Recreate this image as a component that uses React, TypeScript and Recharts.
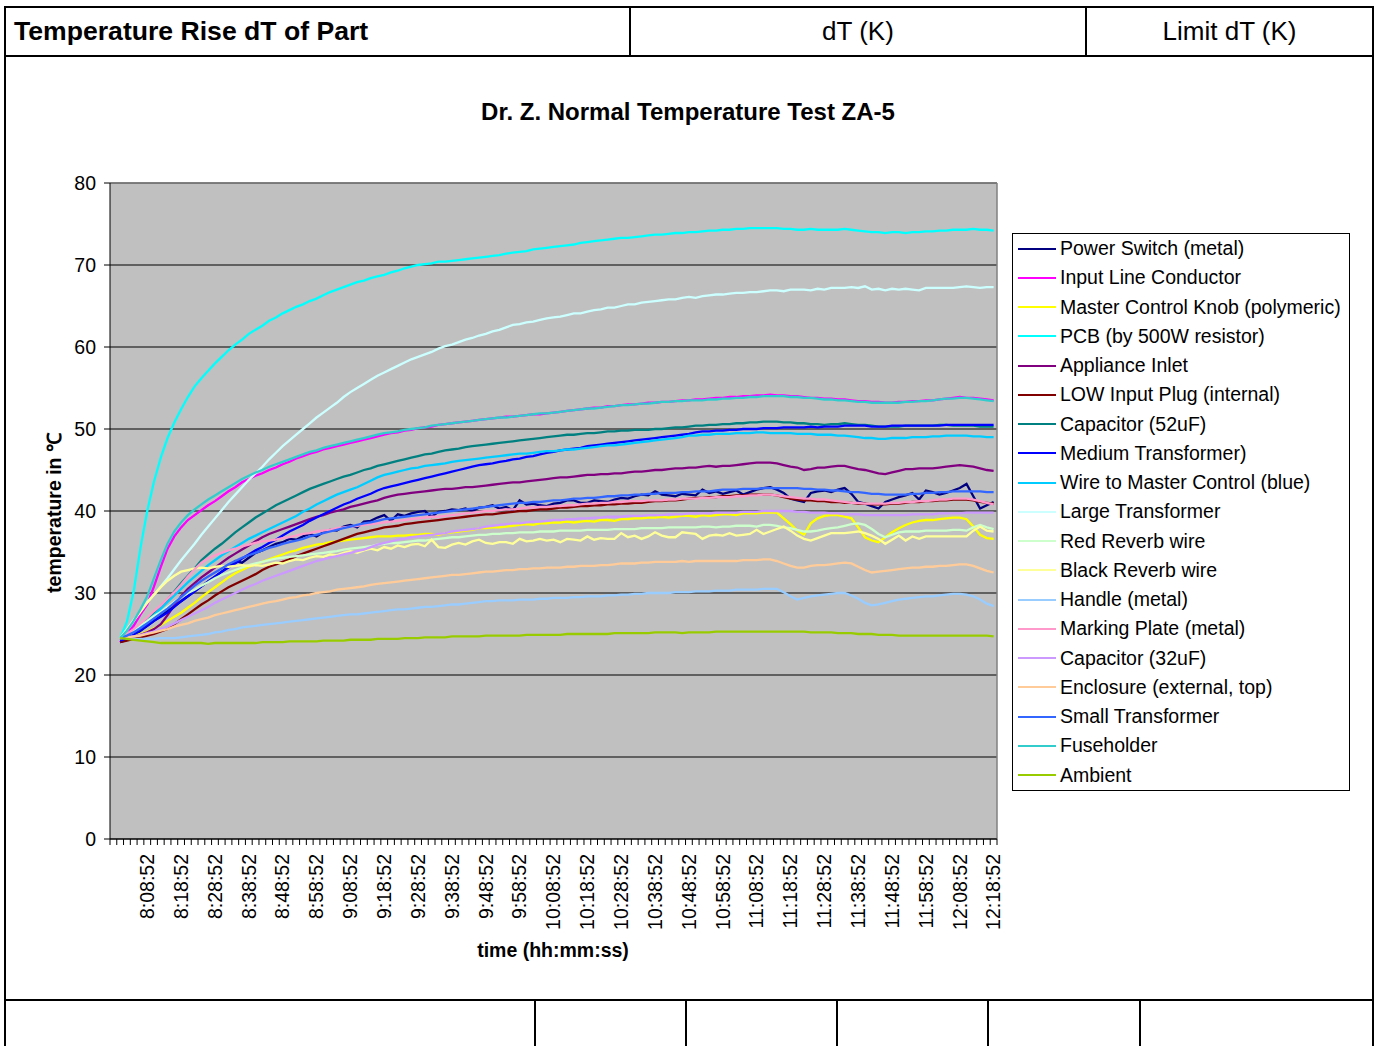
import React from "react";
import { LineChart, Line, XAxis, YAxis, CartesianGrid, Legend, ReferenceLine } from "recharts";

// ---------- categories (sample times, every 2 minutes) ----------
const times: string[] = [
  "7:58:52",
  "8:00:52","8:02:52","8:04:52","8:06:52","8:08:52","8:10:52","8:12:52","8:14:52","8:16:52","8:18:52",
  "8:20:52","8:22:52","8:24:52","8:26:52","8:28:52","8:30:52","8:32:52","8:34:52","8:36:52","8:38:52",
  "8:40:52","8:42:52","8:44:52","8:46:52","8:48:52","8:50:52","8:52:52","8:54:52","8:56:52","8:58:52",
  "9:00:52","9:02:52","9:04:52","9:06:52","9:08:52","9:10:52","9:12:52","9:14:52","9:16:52","9:18:52",
  "9:20:52","9:22:52","9:24:52","9:26:52","9:28:52","9:30:52","9:32:52","9:34:52","9:36:52","9:38:52",
  "9:40:52","9:42:52","9:44:52","9:46:52","9:48:52","9:50:52","9:52:52","9:54:52","9:56:52","9:58:52",
  "10:00:52","10:02:52","10:04:52","10:06:52","10:08:52","10:10:52","10:12:52","10:14:52","10:16:52","10:18:52",
  "10:20:52","10:22:52","10:24:52","10:26:52","10:28:52","10:30:52","10:32:52","10:34:52","10:36:52","10:38:52",
  "10:40:52","10:42:52","10:44:52","10:46:52","10:48:52","10:50:52","10:52:52","10:54:52","10:56:52","10:58:52",
  "11:00:52","11:02:52","11:04:52","11:06:52","11:08:52","11:10:52","11:12:52","11:14:52","11:16:52","11:18:52",
  "11:20:52","11:22:52","11:24:52","11:26:52","11:28:52","11:30:52","11:32:52","11:34:52","11:36:52","11:38:52",
  "11:40:52","11:42:52","11:44:52","11:46:52","11:48:52","11:50:52","11:52:52","11:54:52","11:56:52","11:58:52",
  "12:00:52","12:02:52","12:04:52","12:06:52","12:08:52","12:10:52","12:12:52","12:14:52","12:16:52","12:18:52",
];
// the first category carries no reading; values below start at the second category
const FIRST_SAMPLE = 1;

const yTicks = [0, 10, 20, 30, 40, 50, 60, 70, 80];

// ---------- series values (°C) ----------
const powerSwitch = [
  24.0, 24.3, 24.8, 25.4, 26.0, 26.6, 27.2, 27.8, 28.4, 29.0,
  29.6, 30.2, 30.8, 31.4, 32.0, 32.6, 33.2, 33.9, 33.7, 34.3,
  34.9, 35.2, 35.6, 36.0, 36.2, 36.6, 36.5, 36.9, 37.2, 36.9,
  37.4, 37.7, 37.6, 38.1, 38.3, 38.0, 38.7, 38.8, 39.2, 39.5,
  38.8, 39.6, 39.4, 39.7, 39.9, 40.0, 39.3, 39.9, 40.0, 40.2,
  40.1, 40.3, 40.0, 40.4, 40.5, 40.7, 40.3, 40.5, 40.1, 41.3,
  40.8, 40.9, 40.7, 40.6, 40.9, 41.0, 41.3, 41.3, 41.0, 41.0,
  41.3, 41.2, 41.1, 41.4, 41.6, 41.5, 41.8, 42.0, 41.9, 42.4,
  42.0, 41.9, 41.8, 42.1, 42.0, 41.9, 42.6, 42.2, 42.4, 42.1,
  42.3, 42.5, 42.0, 42.3, 42.6, 42.8, 42.9, 42.6, 42.2, 41.5,
  41.3, 41.1, 42.2, 42.4, 42.5, 42.3, 42.6, 42.8, 42.1, 41.1,
  40.9, 40.6, 40.3, 41.1, 41.4, 41.7, 41.9, 42.2, 41.4, 42.5,
  42.3, 42.0, 42.2, 42.5, 42.8, 43.3, 41.8, 40.3, 40.7, 41.1,
];
const inputLine = [
  24.0, 25.0, 26.0, 27.4, 28.6, 30.8, 33.2, 35.4, 36.9, 38.0,
  38.9, 39.5, 40.1, 40.7, 41.2, 41.8, 42.4, 42.9, 43.5, 43.9,
  44.3, 44.6, 45.0, 45.3, 45.7, 46.0, 46.4, 46.7, 47.0, 47.2,
  47.5, 47.7, 47.9, 48.1, 48.3, 48.5, 48.7, 48.9, 49.1, 49.3,
  49.5, 49.6, 49.8, 49.9, 50.1, 50.2, 50.3, 50.5, 50.6, 50.7,
  50.8, 50.9, 51.0, 51.1, 51.2, 51.3, 51.4, 51.5, 51.5, 51.6,
  51.7, 51.8, 51.8, 51.9, 52.0, 52.1, 52.2, 52.3, 52.4, 52.5,
  52.6, 52.6, 52.8, 52.8, 52.9, 53.0, 53.0, 53.1, 53.2, 53.2,
  53.3, 53.3, 53.4, 53.5, 53.5, 53.6, 53.6, 53.7, 53.8, 53.8,
  53.9, 53.9, 54.0, 54.0, 54.1, 54.1, 54.2, 54.1, 54.1, 54.0,
  54.0, 53.9, 53.8, 53.8, 53.7, 53.7, 53.6, 53.6, 53.5, 53.4,
  53.4, 53.3, 53.3, 53.2, 53.2, 53.3, 53.3, 53.4, 53.4, 53.5,
  53.5, 53.6, 53.7, 53.8, 53.9, 53.8, 53.8, 53.7, 53.6, 53.5,
];
const masterKnob = [
  24.5, 24.6, 24.8, 25.0, 25.3, 25.7, 26.1, 26.6, 27.1, 27.6,
  28.2, 28.8, 29.5, 30.1, 30.7, 31.3, 31.9, 32.4, 32.8, 33.2,
  33.5, 33.8, 34.1, 34.4, 34.7, 35.0, 35.2, 35.5, 35.7, 35.9,
  36.0, 36.2, 36.3, 36.4, 36.5, 36.6, 36.7, 36.8, 36.9, 36.9,
  36.9, 37.0, 37.0, 37.1, 37.1, 37.2, 37.2, 37.1, 37.3, 37.4,
  37.5, 37.6, 37.7, 37.9, 37.9, 38.0, 38.0, 38.1, 38.2, 38.3,
  38.4, 38.3, 38.5, 38.5, 38.6, 38.6, 38.7, 38.6, 38.7, 38.8,
  38.7, 38.9, 38.9, 38.8, 39.0, 39.0, 39.1, 39.1, 39.2, 39.2,
  39.3, 39.2, 39.3, 39.4, 39.4, 39.3, 39.5, 39.4, 39.5, 39.6,
  39.6, 39.5, 39.7, 39.7, 39.7, 39.8, 39.8, 39.8, 39.1, 38.4,
  37.6, 37.1, 38.5, 39.1, 39.4, 39.5, 39.5, 39.3, 39.1, 38.0,
  36.8, 36.4, 36.2, 36.8, 37.4, 37.9, 38.3, 38.6, 38.8, 38.9,
  38.9, 39.0, 39.1, 39.2, 39.2, 39.0, 38.1, 37.1, 36.7, 36.6,
];
const pcb = [
  24.5, 26.5, 30.2, 35.5, 40.0, 43.6, 46.5, 48.9, 50.8, 52.4,
  53.9, 55.2, 56.2, 57.1, 58.0, 58.8, 59.6, 60.3, 60.9, 61.6,
  62.1, 62.6, 63.2, 63.6, 64.1, 64.5, 64.9, 65.2, 65.6, 65.9,
  66.3, 66.7, 67.0, 67.3, 67.6, 67.9, 68.1, 68.4, 68.6, 68.8,
  69.1, 69.3, 69.6, 69.8, 70.0, 70.1, 70.2, 70.4, 70.4, 70.5,
  70.6, 70.7, 70.8, 70.9, 71.0, 71.1, 71.2, 71.4, 71.5, 71.6,
  71.7, 71.9, 72.0, 72.1, 72.2, 72.3, 72.4, 72.5, 72.7, 72.8,
  72.9, 73.0, 73.1, 73.2, 73.3, 73.3, 73.4, 73.5, 73.6, 73.7,
  73.7, 73.8, 73.9, 73.9, 74.0, 74.0, 74.1, 74.2, 74.2, 74.3,
  74.3, 74.4, 74.4, 74.5, 74.5, 74.5, 74.5, 74.5, 74.4, 74.4,
  74.3, 74.3, 74.4, 74.3, 74.3, 74.3, 74.3, 74.4, 74.3, 74.2,
  74.1, 74.0, 74.0, 73.9, 74.0, 74.0, 73.9, 74.0, 74.0, 74.1,
  74.1, 74.2, 74.2, 74.3, 74.3, 74.3, 74.4, 74.3, 74.3, 74.2,
];
const applianceInlet = [
  24.4, 24.5, 24.7, 24.9, 25.2, 25.6, 26.2, 27.3, 28.5, 29.6,
  30.5, 31.2, 31.9, 32.5, 33.1, 33.7, 34.3, 34.8, 35.3, 35.8,
  36.3, 36.8, 37.2, 37.5, 37.8, 38.1, 38.4, 38.7, 39.0, 39.3,
  39.5, 39.8, 40.0, 40.2, 40.5, 40.7, 40.9, 41.1, 41.3, 41.6,
  41.8, 42.0, 42.1, 42.2, 42.3, 42.4, 42.5, 42.6, 42.7, 42.7,
  42.8, 42.9, 42.9, 43.0, 43.1, 43.2, 43.3, 43.4, 43.5, 43.5,
  43.6, 43.7, 43.8, 43.9, 44.0, 44.1, 44.1, 44.2, 44.3, 44.4,
  44.4, 44.5, 44.5, 44.6, 44.6, 44.7, 44.8, 44.8, 44.9, 45.0,
  45.0, 45.1, 45.2, 45.2, 45.3, 45.3, 45.4, 45.5, 45.4, 45.5,
  45.5, 45.6, 45.7, 45.8, 45.9, 45.9, 45.9, 45.8, 45.6, 45.4,
  45.3, 45.0, 45.1, 45.3, 45.3, 45.4, 45.5, 45.5, 45.3, 45.1,
  45.0, 44.8, 44.6, 44.5, 44.7, 44.9, 45.1, 45.1, 45.2, 45.2,
  45.2, 45.3, 45.4, 45.5, 45.6, 45.5, 45.4, 45.2, 45.0, 44.9,
];
const lowInputPlug = [
  24.0, 24.2, 24.4, 24.6, 24.8, 25.0, 25.3, 25.6, 26.2, 26.8,
  27.4, 28.0, 28.6, 29.1, 29.7, 30.2, 30.7, 31.1, 31.5, 31.9,
  32.3, 32.8, 33.2, 33.5, 33.8, 34.1, 34.5, 34.8, 35.1, 35.4,
  35.7, 36.0, 36.3, 36.6, 36.9, 37.2, 37.4, 37.6, 37.8, 38.0,
  38.1, 38.2, 38.4, 38.5, 38.6, 38.7, 38.8, 38.9, 39.0, 39.1,
  39.2, 39.3, 39.4, 39.5, 39.6, 39.6, 39.7, 39.8, 39.9, 40.0,
  40.0, 40.1, 40.2, 40.2, 40.3, 40.4, 40.4, 40.5, 40.6, 40.6,
  40.7, 40.7, 40.8, 40.8, 40.9, 40.9, 41.0, 41.0, 41.1, 41.2,
  41.2, 41.3, 41.3, 41.4, 41.5, 41.6, 41.6, 41.7, 41.7, 41.8,
  41.8, 41.9, 41.9, 42.0, 42.0, 42.0, 42.0, 41.9, 41.7, 41.5,
  41.4, 41.3, 41.3, 41.2, 41.2, 41.1, 41.1, 41.0, 41.0, 40.9,
  40.9, 40.8, 40.8, 40.8, 40.9, 40.9, 41.0, 41.1, 41.1, 41.2,
  41.2, 41.3, 41.3, 41.4, 41.4, 41.4, 41.3, 41.1, 41.0, 40.9,
];
const cap52 = [
  24.5, 24.8, 25.3, 26.0, 26.8, 27.6, 28.4, 29.2, 30.2, 31.2,
  32.1, 33.0, 34.0, 34.7, 35.4, 36.0, 36.7, 37.4, 38.0, 38.6,
  39.2, 39.7, 40.2, 40.7, 41.1, 41.5, 41.9, 42.3, 42.7, 43.0,
  43.3, 43.6, 43.9, 44.2, 44.4, 44.7, 45.0, 45.2, 45.5, 45.7,
  45.9, 46.1, 46.3, 46.5, 46.7, 46.9, 47.0, 47.2, 47.4, 47.5,
  47.6, 47.8, 47.9, 48.0, 48.1, 48.2, 48.3, 48.4, 48.5, 48.6,
  48.7, 48.8, 48.9, 49.0, 49.1, 49.2, 49.3, 49.3, 49.4, 49.5,
  49.5, 49.6, 49.7, 49.7, 49.8, 49.8, 49.9, 49.9, 49.9, 50.0,
  50.0, 50.1, 50.2, 50.2, 50.3, 50.4, 50.4, 50.5, 50.5, 50.6,
  50.6, 50.7, 50.7, 50.8, 50.8, 50.9, 50.9, 50.9, 50.8, 50.8,
  50.7, 50.7, 50.6, 50.6, 50.5, 50.6, 50.6, 50.7, 50.6, 50.5,
  50.5, 50.4, 50.3, 50.3, 50.3, 50.3, 50.4, 50.4, 50.4, 50.4,
  50.4, 50.5, 50.5, 50.4, 50.4, 50.4, 50.4, 50.3, 50.3, 50.3,
];
const mediumTransformer = [
  24.2, 24.5, 24.9, 25.5, 26.0, 26.6, 27.1, 27.6, 28.3, 29.0,
  29.6, 30.2, 30.8, 31.4, 32.0, 32.6, 33.1, 33.6, 34.2, 34.7,
  35.2, 35.6, 36.1, 36.5, 37.0, 37.5, 37.9, 38.3, 38.8, 39.2,
  39.6, 40.0, 40.4, 40.8, 41.1, 41.5, 41.8, 42.1, 42.5, 42.8,
  43.0, 43.2, 43.4, 43.6, 43.8, 44.0, 44.2, 44.4, 44.6, 44.8,
  45.0, 45.2, 45.4, 45.6, 45.7, 45.8, 46.0, 46.1, 46.3, 46.4,
  46.6, 46.7, 46.9, 47.1, 47.2, 47.4, 47.5, 47.6, 47.7, 47.9,
  48.0, 48.1, 48.2, 48.3, 48.4, 48.5, 48.6, 48.7, 48.8, 48.9,
  49.0, 49.1, 49.2, 49.3, 49.4, 49.6, 49.7, 49.7, 49.8, 49.8,
  49.9, 49.9, 50.0, 50.0, 50.0, 50.1, 50.1, 50.1, 50.2, 50.2,
  50.2, 50.2, 50.3, 50.2, 50.3, 50.3, 50.3, 50.4, 50.4, 50.4,
  50.4, 50.3, 50.3, 50.3, 50.4, 50.4, 50.4, 50.4, 50.4, 50.4,
  50.4, 50.4, 50.5, 50.5, 50.5, 50.5, 50.5, 50.5, 50.5, 50.5,
];
const wireMaster = [
  24.5, 24.8, 25.3, 25.9, 26.6, 27.3, 28.1, 28.9, 29.7, 30.5,
  31.3, 32.0, 32.7, 33.4, 34.0, 34.6, 35.1, 35.6, 36.1, 36.6,
  37.0, 37.4, 37.8, 38.2, 38.6, 39.0, 39.4, 39.9, 40.3, 40.8,
  41.2, 41.6, 42.0, 42.3, 42.6, 42.9, 43.3, 43.7, 44.1, 44.4,
  44.6, 44.8, 45.0, 45.2, 45.3, 45.5, 45.6, 45.7, 45.8, 46.0,
  46.1, 46.2, 46.3, 46.4, 46.5, 46.6, 46.7, 46.8, 46.9, 47.0,
  47.0, 47.1, 47.2, 47.3, 47.3, 47.4, 47.5, 47.5, 47.6, 47.7,
  47.8, 47.9, 48.0, 48.0, 48.1, 48.2, 48.3, 48.4, 48.5, 48.6,
  48.7, 48.8, 48.9, 49.0, 49.2, 49.2, 49.3, 49.3, 49.4, 49.4,
  49.4, 49.5, 49.5, 49.5, 49.6, 49.6, 49.5, 49.5, 49.5, 49.5,
  49.4, 49.4, 49.4, 49.3, 49.3, 49.3, 49.2, 49.2, 49.1, 49.0,
  48.9, 48.9, 48.8, 48.8, 48.9, 48.9, 48.9, 49.0, 49.0, 49.0,
  49.1, 49.1, 49.2, 49.2, 49.2, 49.2, 49.1, 49.1, 49.0, 49.0,
];
const largeTransformer = [
  24.5, 25.6, 26.7, 27.8, 28.9, 29.8, 30.8, 31.8, 32.9, 34.0,
  35.0, 36.0, 37.1, 38.1, 39.1, 40.1, 41.1, 42.0, 42.9, 43.8,
  44.6, 45.4, 46.3, 47.1, 47.9, 48.6, 49.3, 50.0, 50.7, 51.4,
  52.0, 52.6, 53.2, 53.9, 54.5, 55.0, 55.5, 56.0, 56.5, 56.9,
  57.3, 57.7, 58.1, 58.5, 58.8, 59.1, 59.4, 59.8, 60.1, 60.3,
  60.6, 60.9, 61.1, 61.4, 61.6, 61.9, 62.1, 62.4, 62.7, 62.8,
  63.0, 63.1, 63.3, 63.5, 63.6, 63.7, 63.9, 64.1, 64.1, 64.3,
  64.5, 64.6, 64.8, 64.8, 65.0, 65.2, 65.2, 65.4, 65.5, 65.6,
  65.7, 65.8, 65.8, 66.0, 66.1, 66.0, 66.2, 66.3, 66.4, 66.4,
  66.5, 66.6, 66.6, 66.7, 66.7, 66.8, 66.9, 66.9, 66.8, 67.0,
  67.0, 67.0, 66.9, 67.1, 67.0, 67.2, 67.2, 67.2, 67.3, 67.2,
  67.4, 67.0, 67.1, 66.9, 67.1, 67.0, 67.1, 67.0, 66.9, 67.2,
  67.2, 67.2, 67.2, 67.2, 67.3, 67.4, 67.3, 67.2, 67.3, 67.3,
];
const redReverb = [
  24.5, 25.0, 25.5, 26.1, 26.6, 27.2, 27.7, 28.3, 28.9, 29.5,
  30.0, 30.4, 30.9, 31.3, 31.8, 32.2, 32.5, 32.8, 33.1, 33.4,
  33.6, 33.8, 34.0, 34.2, 34.3, 34.4, 34.5, 34.6, 34.7, 34.8,
  34.9, 35.0, 35.1, 35.3, 35.4, 35.5, 35.6, 35.7, 35.9, 36.0,
  36.1, 36.1, 36.2, 36.3, 36.4, 36.4, 36.5, 36.6, 36.7, 36.8,
  36.8, 36.9, 37.0, 37.1, 37.1, 37.2, 37.2, 37.3, 37.3, 37.4,
  37.4, 37.4, 37.5, 37.5, 37.5, 37.6, 37.6, 37.6, 37.6, 37.7,
  37.7, 37.7, 37.7, 37.8, 37.8, 37.8, 37.8, 37.9, 37.9, 37.9,
  37.9, 38.0, 38.0, 38.0, 38.0, 38.0, 38.1, 38.1, 38.0, 38.1,
  38.1, 38.2, 38.2, 38.2, 38.1, 38.3, 38.3, 38.2, 38.0, 37.9,
  37.7, 37.5, 37.5, 37.6, 37.8, 37.9, 38.0, 38.2, 38.4, 38.5,
  38.3, 37.8, 37.2, 36.8, 37.1, 37.4, 37.5, 37.5, 37.5, 37.6,
  37.6, 37.6, 37.6, 37.7, 37.7, 37.6, 38.0, 38.3, 38.0, 37.8,
];
const blackReverb = [
  24.5, 25.5, 26.6, 27.7, 28.8, 29.8, 30.7, 31.5, 32.1, 32.6,
  32.8, 33.0, 33.1, 33.0, 33.2, 33.3, 33.2, 33.3, 33.4, 33.3,
  33.4, 33.3, 33.5, 33.7, 33.6, 33.9, 34.1, 34.0, 34.3, 34.5,
  34.4, 34.7, 34.6, 34.9, 35.1, 34.9, 35.2, 35.4, 35.2, 35.6,
  35.4, 35.8, 35.6, 35.9, 36.0, 35.7, 36.5, 35.6, 35.5, 35.9,
  36.1, 35.9, 36.3, 36.5, 36.1, 36.0, 36.2, 36.2, 36.0, 36.6,
  36.3, 36.4, 36.6, 36.4, 36.5, 36.2, 36.6, 36.5, 36.4, 36.9,
  36.5, 36.7, 36.6, 36.6, 37.3, 36.8, 37.0, 36.6, 36.9, 37.4,
  37.0, 36.8, 36.8, 37.4, 37.3, 37.2, 36.6, 37.0, 37.1, 37.0,
  37.3, 37.0, 37.1, 37.2, 37.7, 37.2, 37.5, 37.8, 38.1, 37.6,
  37.0, 36.6, 36.4, 36.7, 37.0, 37.3, 37.3, 37.3, 37.4, 37.5,
  37.3, 37.0, 36.6, 36.0, 36.5, 37.0, 36.4, 36.9, 36.6, 36.9,
  36.9, 36.9, 36.9, 36.9, 36.9, 36.9, 37.6, 38.1, 37.6, 37.5,
];
const handle = [
  24.5, 24.5, 24.4, 24.4, 24.4, 24.4, 24.5, 24.5, 24.5, 24.6,
  24.7, 24.8, 24.9, 25.0, 25.2, 25.3, 25.5, 25.6, 25.8, 25.9,
  26.0, 26.1, 26.2, 26.3, 26.4, 26.5, 26.6, 26.7, 26.8, 26.9,
  27.0, 27.1, 27.2, 27.3, 27.4, 27.4, 27.5, 27.6, 27.7, 27.8,
  27.9, 28.0, 28.0, 28.1, 28.2, 28.3, 28.3, 28.4, 28.5, 28.6,
  28.6, 28.7, 28.8, 28.9, 29.0, 29.0, 29.1, 29.1, 29.1, 29.2,
  29.2, 29.2, 29.3, 29.3, 29.4, 29.4, 29.4, 29.5, 29.5, 29.6,
  29.6, 29.6, 29.7, 29.7, 29.8, 29.8, 29.9, 29.9, 30.0, 30.0,
  30.0, 30.0, 30.1, 30.1, 30.1, 30.2, 30.2, 30.2, 30.3, 30.3,
  30.3, 30.4, 30.4, 30.4, 30.4, 30.5, 30.5, 30.5, 30.1, 29.6,
  29.2, 29.4, 29.6, 29.7, 29.8, 29.9, 30.0, 30.0, 29.7, 29.3,
  28.8, 28.5, 28.6, 28.8, 29.0, 29.2, 29.3, 29.4, 29.5, 29.6,
  29.6, 29.7, 29.8, 29.9, 29.9, 29.8, 29.6, 29.2, 28.7, 28.4,
];
const markingPlate = [
  24.5, 25.0, 25.6, 26.3, 27.0, 27.8, 28.5, 29.3, 30.1, 31.0,
  32.0, 32.9, 33.7, 34.2, 34.6, 34.9, 35.2, 35.4, 35.7, 35.9,
  36.1, 36.3, 36.4, 36.5, 36.7, 36.8, 37.0, 37.2, 37.3, 37.5,
  37.6, 37.7, 37.9, 38.0, 38.1, 38.2, 38.3, 38.4, 38.5, 38.6,
  38.7, 38.8, 38.9, 39.0, 39.1, 39.2, 39.3, 39.3, 39.4, 39.5,
  39.6, 39.7, 39.8, 39.9, 40.0, 40.0, 40.1, 40.2, 40.2, 40.3,
  40.4, 40.4, 40.5, 40.5, 40.6, 40.6, 40.7, 40.7, 40.8, 40.9,
  40.9, 41.0, 41.0, 41.1, 41.1, 41.2, 41.2, 41.2, 41.3, 41.3,
  41.3, 41.4, 41.4, 41.5, 41.5, 41.5, 41.6, 41.6, 41.7, 41.7,
  41.7, 41.8, 41.8, 41.9, 41.9, 42.0, 42.0, 41.9, 41.8, 41.7,
  41.6, 41.5, 41.5, 41.4, 41.4, 41.3, 41.2, 41.1, 41.0, 41.0,
  40.9, 40.9, 40.9, 40.9, 41.0, 41.0, 41.1, 41.1, 41.2, 41.2,
  41.3, 41.4, 41.4, 41.5, 41.5, 41.5, 41.4, 41.2, 41.0, 40.8,
];
const cap32 = [
  24.5, 24.6, 24.7, 24.9, 25.1, 25.3, 25.6, 25.9, 26.3, 26.7,
  27.1, 27.5, 27.9, 28.3, 28.8, 29.2, 29.6, 30.0, 30.4, 30.8,
  31.1, 31.5, 31.8, 32.1, 32.4, 32.7, 33.0, 33.3, 33.6, 33.9,
  34.1, 34.3, 34.5, 34.7, 34.9, 35.1, 35.3, 35.6, 35.9, 36.1,
  36.3, 36.5, 36.6, 36.8, 36.9, 37.0, 37.1, 37.2, 37.3, 37.5,
  37.6, 37.7, 37.8, 37.9, 38.1, 38.2, 38.3, 38.4, 38.5, 38.5,
  38.6, 38.7, 38.7, 38.8, 38.9, 38.9, 39.0, 39.0, 39.1, 39.1,
  39.2, 39.2, 39.3, 39.3, 39.3, 39.4, 39.4, 39.4, 39.5, 39.5,
  39.5, 39.6, 39.6, 39.6, 39.7, 39.7, 39.7, 39.7, 39.8, 39.8,
  39.8, 39.8, 39.9, 39.9, 39.9, 40.0, 40.0, 40.0, 40.0, 40.0,
  39.9, 39.9, 39.8, 39.8, 39.8, 39.7, 39.7, 39.6, 39.6, 39.6,
  39.5, 39.5, 39.5, 39.5, 39.5, 39.5, 39.5, 39.6, 39.6, 39.6,
  39.6, 39.7, 39.7, 39.7, 39.7, 39.8, 39.8, 39.8, 39.8, 39.8,
];
const enclosure = [
  24.5, 24.6, 24.7, 24.8, 25.0, 25.2, 25.4, 25.6, 25.9, 26.1,
  26.3, 26.6, 26.8, 27.0, 27.3, 27.5, 27.7, 27.9, 28.1, 28.3,
  28.5, 28.7, 28.9, 29.0, 29.2, 29.4, 29.5, 29.7, 29.8, 30.0,
  30.1, 30.2, 30.4, 30.5, 30.6, 30.7, 30.8, 31.0, 31.1, 31.2,
  31.3, 31.4, 31.5, 31.6, 31.7, 31.8, 31.9, 32.0, 32.1, 32.2,
  32.2, 32.3, 32.4, 32.5, 32.6, 32.6, 32.7, 32.8, 32.8, 32.9,
  32.9, 33.0, 33.0, 33.1, 33.1, 33.1, 33.2, 33.2, 33.3, 33.3,
  33.3, 33.4, 33.4, 33.5, 33.6, 33.6, 33.6, 33.7, 33.7, 33.8,
  33.8, 33.8, 33.8, 33.9, 33.8, 33.9, 33.9, 33.9, 33.9, 33.9,
  33.9, 33.9, 34.0, 34.0, 34.0, 34.1, 34.1, 33.9, 33.6, 33.3,
  33.1, 33.1, 33.3, 33.4, 33.4, 33.5, 33.6, 33.7, 33.6, 33.2,
  32.8, 32.5, 32.6, 32.7, 32.8, 32.9, 33.0, 33.1, 33.1, 33.2,
  33.2, 33.3, 33.3, 33.4, 33.5, 33.5, 33.3, 33.0, 32.7, 32.5,
];
const smallTransformer = [
  24.5, 24.8, 25.2, 25.7, 26.3, 26.9, 27.5, 28.1, 28.8, 29.5,
  30.2, 30.9, 31.5, 32.0, 32.5, 33.0, 33.5, 33.9, 34.3, 34.6,
  34.9, 35.2, 35.5, 35.7, 36.0, 36.2, 36.4, 36.6, 36.9, 37.1,
  37.3, 37.5, 37.7, 37.9, 38.1, 38.3, 38.5, 38.6, 38.8, 39.0,
  39.1, 39.2, 39.3, 39.4, 39.5, 39.6, 39.7, 39.8, 39.9, 40.0,
  40.1, 40.2, 40.3, 40.4, 40.5, 40.6, 40.7, 40.8, 40.9, 41.0,
  41.0, 41.1, 41.1, 41.2, 41.3, 41.3, 41.4, 41.5, 41.5, 41.6,
  41.6, 41.7, 41.8, 41.8, 41.9, 41.9, 42.0, 42.0, 42.1, 42.1,
  42.2, 42.2, 42.2, 42.3, 42.3, 42.4, 42.4, 42.4, 42.5, 42.6,
  42.6, 42.6, 42.7, 42.7, 42.7, 42.8, 42.8, 42.8, 42.8, 42.8,
  42.8, 42.7, 42.7, 42.6, 42.6, 42.5, 42.5, 42.4, 42.3, 42.3,
  42.2, 42.1, 42.1, 42.0, 42.0, 42.0, 42.0, 42.1, 42.1, 42.2,
  42.2, 42.3, 42.3, 42.4, 42.4, 42.4, 42.4, 42.4, 42.3, 42.3,
];
const fuseholder = [
  24.5, 25.4, 26.6, 28.0, 29.6, 31.8, 34.0, 36.0, 37.5, 38.6,
  39.5, 40.2, 40.8, 41.4, 41.9, 42.4, 42.9, 43.4, 43.9, 44.3,
  44.7, 45.0, 45.4, 45.7, 46.0, 46.3, 46.6, 46.9, 47.2, 47.4,
  47.7, 47.9, 48.1, 48.3, 48.5, 48.7, 48.9, 49.1, 49.3, 49.5,
  49.6, 49.7, 49.9, 50.0, 50.1, 50.2, 50.4, 50.5, 50.6, 50.7,
  50.8, 50.9, 51.0, 51.1, 51.2, 51.3, 51.4, 51.4, 51.5, 51.6,
  51.7, 51.8, 51.9, 51.9, 52.0, 52.1, 52.2, 52.3, 52.4, 52.5,
  52.5, 52.6, 52.7, 52.8, 52.9, 52.9, 53.0, 53.1, 53.1, 53.2,
  53.3, 53.3, 53.4, 53.4, 53.5, 53.5, 53.5, 53.6, 53.6, 53.7,
  53.7, 53.8, 53.8, 53.9, 53.9, 54.0, 54.0, 54.0, 54.0, 53.9,
  53.9, 53.8, 53.8, 53.7, 53.6, 53.6, 53.5, 53.5, 53.4, 53.3,
  53.3, 53.2, 53.2, 53.2, 53.2, 53.2, 53.3, 53.3, 53.4, 53.4,
  53.5, 53.6, 53.7, 53.7, 53.8, 53.8, 53.7, 53.6, 53.5, 53.4,
];
const ambient = [
  24.5, 24.4, 24.3, 24.2, 24.1, 24.0, 23.9, 23.9, 23.9, 23.9,
  23.9, 23.9, 23.9, 23.8, 23.9, 23.9, 23.9, 23.9, 23.9, 23.9,
  23.9, 24.0, 24.0, 24.0, 24.0, 24.1, 24.1, 24.1, 24.1, 24.1,
  24.2, 24.2, 24.2, 24.2, 24.3, 24.3, 24.3, 24.3, 24.4, 24.4,
  24.4, 24.4, 24.5, 24.5, 24.5, 24.6, 24.6, 24.6, 24.6, 24.7,
  24.7, 24.7, 24.7, 24.7, 24.8, 24.8, 24.8, 24.8, 24.8, 24.8,
  24.9, 24.9, 24.9, 24.9, 24.9, 24.9, 25.0, 25.0, 25.0, 25.0,
  25.0, 25.0, 25.0, 25.1, 25.1, 25.1, 25.1, 25.1, 25.1, 25.2,
  25.2, 25.2, 25.2, 25.1, 25.2, 25.2, 25.2, 25.2, 25.3, 25.3,
  25.3, 25.3, 25.3, 25.3, 25.3, 25.3, 25.3, 25.3, 25.3, 25.3,
  25.3, 25.3, 25.2, 25.2, 25.2, 25.2, 25.1, 25.1, 25.1, 25.0,
  25.0, 25.0, 24.9, 24.9, 24.9, 24.8, 24.8, 24.8, 24.8, 24.8,
  24.8, 24.8, 24.8, 24.8, 24.8, 24.8, 24.8, 24.8, 24.8, 24.7,
];

const series = [
  { name: "Power Switch (metal)", color: "#000080", values: powerSwitch },
  { name: "Input Line Conductor", color: "#FF00FF", values: inputLine },
  { name: "Master Control Knob (polymeric)", color: "#FFFF00", values: masterKnob },
  { name: "PCB (by 500W resistor)", color: "#00FFFF", values: pcb },
  { name: "Appliance Inlet", color: "#800080", values: applianceInlet },
  { name: "LOW Input Plug (internal)", color: "#800000", values: lowInputPlug },
  { name: "Capacitor (52uF)", color: "#008080", values: cap52 },
  { name: "Medium Transformer)", color: "#0000FF", values: mediumTransformer },
  { name: "Wire to Master Control (blue)", color: "#00CCFF", values: wireMaster },
  { name: "Large Transformer", color: "#CCFFFF", values: largeTransformer },
  { name: "Red Reverb wire", color: "#CCFFCC", values: redReverb },
  { name: "Black Reverb wire", color: "#FFFF99", values: blackReverb },
  { name: "Handle (metal)", color: "#99CCFF", values: handle },
  { name: "Marking Plate (metal)", color: "#FF99CC", values: markingPlate },
  { name: "Capacitor (32uF)", color: "#CC99FF", values: cap32 },
  { name: "Enclosure (external, top)", color: "#FFCC99", values: enclosure },
  { name: "Small Transformer", color: "#3366FF", values: smallTransformer },
  { name: "Fuseholder", color: "#33CCCC", values: fuseholder },
  { name: "Ambient", color: "#99CC00", values: ambient },
];

const data = times.map((t, i) => {
  const row: Record<string, any> = { i, t };
  series.forEach((s, k) => {
    const v = s.values[i - FIRST_SAMPLE];
    row["s" + k] = v === undefined ? null : v;
  });
  return row;
});

// ---------- layout ----------
const FONT = "Arial, 'Liberation Sans', Helvetica, sans-serif";
const CHART_W = 1377;
const CHART_H = 1046;
const MARGIN = { top: 183, right: 380, bottom: 117, left: 50 };
const Y_AXIS_W = 60;
const X_AXIS_H = 90;
const PLOT_W = CHART_W - MARGIN.left - MARGIN.right - Y_AXIS_W;
const HALF_BAND = PLOT_W / times.length / 2;
const N = times.length;
// category boundaries carry the minor tick marks
const boundaryTicks = Array.from({ length: N + 1 }, (_, k) => k - 0.5);

const XTick = (props: any) => {
  const { x, y, payload } = props;
  const idx = Math.round(payload.value + 0.5);
  if (idx <= 0 || idx >= N || idx % 5 !== 0) return <g />;
  const cx = x + HALF_BAND;
  return (
    <text
      x={cx}
      y={y}
      transform={`rotate(-90 ${cx} ${y})`}
      textAnchor="end"
      dy="0.35em"
      fontSize={19.5}
      fontFamily={FONT}
      fill="#000"
    >
      {times[idx]}
    </text>
  );
};

const LegendBox = () => (
  <div
    style={{
      border: "1px solid #000",
      background: "#fff",
      width: 336,
      boxSizing: "content-box",
      fontFamily: FONT,
    }}
  >
    {series.map((s) => (
      <div key={s.name} style={{ height: 29.25, display: "flex", alignItems: "center" }}>
        <span
          style={{
            display: "inline-block",
            width: 38,
            height: 2,
            background: s.color,
            marginLeft: 5,
            marginRight: 4,
          }}
        />
        <span style={{ fontSize: 19.5, color: "#000", whiteSpace: "nowrap" }}>{s.name}</span>
      </div>
    ))}
  </div>
);

const line = (l: number, t: number, w: number, h: number, key: string) => (
  <div key={key} style={{ position: "absolute", left: l, top: t, width: w, height: h, background: "#000" }} />
);

export default function App() {
  return (
    <div
      style={{
        position: "absolute",
        left: 0,
        top: 0,
        width: CHART_W,
        height: CHART_H,
        background: "#fff",
        fontFamily: FONT,
        overflow: "hidden",
      }}
    >
      <div style={{ position: "absolute", left: 0, top: 0 }}>
        <LineChart width={CHART_W} height={CHART_H} data={data} margin={MARGIN}>
          <CartesianGrid vertical={false} stroke="#000" fill="#C0C0C0" />
          <XAxis
            type="number"
            dataKey="i"
            domain={[-0.5, N - 0.5]}
            ticks={boundaryTicks}
            interval={0}
            allowDataOverflow
            height={X_AXIS_H}
            tickSize={6}
            tickMargin={9}
            tick={<XTick />}
            axisLine={{ stroke: "#000" }}
            tickLine={{ stroke: "#000" }}
          />
          <YAxis
            type="number"
            domain={[0, 80]}
            ticks={yTicks}
            interval={0}
            width={Y_AXIS_W}
            tickSize={6}
            tickMargin={8}
            tick={{ fontSize: 19.5, fill: "#000", fontFamily: FONT }}
            axisLine={{ stroke: "#000" }}
            tickLine={{ stroke: "#000" }}
          />
          <ReferenceLine y={80} stroke="#808080" strokeWidth={1.5} />
          <ReferenceLine x={N - 0.5} stroke="#808080" strokeWidth={1.5} />
          {series.map((s, k) => (
            <Line
              key={s.name}
              type="linear"
              dataKey={"s" + k}
              name={s.name}
              stroke={s.color}
              strokeWidth={2.3}
              dot={false}
              activeDot={false}
              isAnimationActive={false}
              connectNulls={false}
            />
          ))}
          <Legend
            layout="vertical"
            align="center"
            verticalAlign="middle"
            content={() => <LegendBox />}
            wrapperStyle={{ left: 1012, top: 233, width: 338, height: 556 }}
          />
        </LineChart>
      </div>

      {/* table frame */}
      {line(4, 6, 1370, 2, "top")}
      {line(4, 6, 2, 1040, "left")}
      {line(1372, 6, 2, 1040, "right")}
      {line(4, 55, 1370, 2, "hdr")}
      {line(629, 6, 2, 50, "hc1")}
      {line(1085, 6, 2, 50, "hc2")}
      {line(4, 999, 1370, 2, "bot")}
      {line(534, 1000, 2, 46, "bc1")}
      {line(685, 1000, 2, 46, "bc2")}
      {line(836, 1000, 2, 46, "bc3")}
      {line(987, 1000, 2, 46, "bc4")}
      {line(1139, 1000, 2, 46, "bc5")}

      <div style={{ position: "absolute", left: 14, top: 8, height: 47, display: "flex", alignItems: "center", fontSize: 26.6, fontWeight: "bold", whiteSpace: "nowrap" }}>
        Temperature Rise dT of Part
      </div>
      <div style={{ position: "absolute", left: 631, width: 454, top: 8, height: 47, display: "flex", alignItems: "center", justifyContent: "center", fontSize: 26 }}>
        dT (K)
      </div>
      <div style={{ position: "absolute", left: 1087, width: 285, top: 8, height: 47, display: "flex", alignItems: "center", justifyContent: "center", fontSize: 26 }}>
        Limit dT (K)
      </div>

      <div style={{ position: "absolute", left: 688, top: 112, transform: "translate(-50%, -50%)", fontSize: 24, fontWeight: "bold", whiteSpace: "nowrap" }}>
        Dr. Z. Normal Temperature Test ZA-5
      </div>
      <div style={{ position: "absolute", left: 53, top: 513, transform: "translate(-50%, -50%) rotate(-90deg)", fontSize: 19.5, fontWeight: "bold", whiteSpace: "nowrap" }}>
        temperature in ℃
      </div>
      <div style={{ position: "absolute", left: 553, top: 950, transform: "translate(-50%, -50%)", fontSize: 19.5, fontWeight: "bold", whiteSpace: "nowrap" }}>
        time (hh:mm:ss)
      </div>
    </div>
  );
}
